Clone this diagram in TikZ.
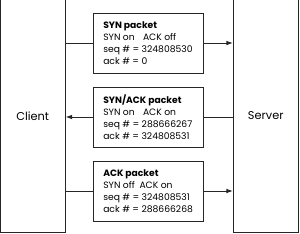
\documentclass[tikz,border=0pt]{standalone}
\usepackage{fontspec}
\setmainfont{Poppins}
\usetikzlibrary{arrows.meta}
\begin{document}
\begin{tikzpicture}[x=0.75pt,y=-0.75pt,
  hostbox/.style={draw=black!85,line width=0.75pt,inner sep=0pt,minimum width=64.5*0.75pt,minimum height=233*0.75pt,font=\fontsize{8.5}{10}\selectfont},
  pktbox/.style={draw=black!85,line width=0.75pt,inner sep=0pt,minimum width=110*0.75pt,minimum height=60*0.75pt},
  pkttext/.style={inner sep=0pt,align=left,anchor=west,font=\fontsize{6.9}{9}\selectfont},
  conn/.style={draw=black!85,line width=0.75pt},
  arr/.style={conn,-{Latex[length=5pt,width=3.5pt]}}]
\useasboundingbox (0,0) rectangle (300,233);
\clip (0,0) rectangle (300,233);
\node[hostbox] (client) at (32.75,115.75) {Client};
\node[hostbox] (server) at (265.75,115.75) {Server};
\node[pktbox] (p1) at (148,43) {};
\node[pktbox] (p2) at (148,117) {};
\node[pktbox] (p3) at (148,191) {};
\node[pkttext] (t1) at (103,43) {\textbf{SYN packet}\\SYN on\hspace{0.9em}ACK off\\seq \# = 324808530\\ack \# = 0};
\node[pkttext] (t2) at (103,117) {\textbf{SYN/ACK packet}\\SYN on\hspace{0.9em}ACK on\\seq \# = 288666267\\ack \# = 324808531};
\node[pkttext] (t3) at (103,191) {\textbf{ACK packet}\\SYN off\hspace{0.5em}ACK on\\seq \# = 324808531\\ack \# = 288666268};
\draw[conn] (client.east |- p1.west) -- (p1.west);
\draw[arr] (p1.east) -- (server.west |- p1.east);
\draw[conn] (server.west |- p2.east) -- (p2.east);
\draw[arr] (p2.west) -- (client.east |- p2.west);
\draw[conn] (client.east |- p3.west) -- (p3.west);
\draw[arr] (p3.east) -- (server.west |- p3.east);
\end{tikzpicture}
\end{document}
